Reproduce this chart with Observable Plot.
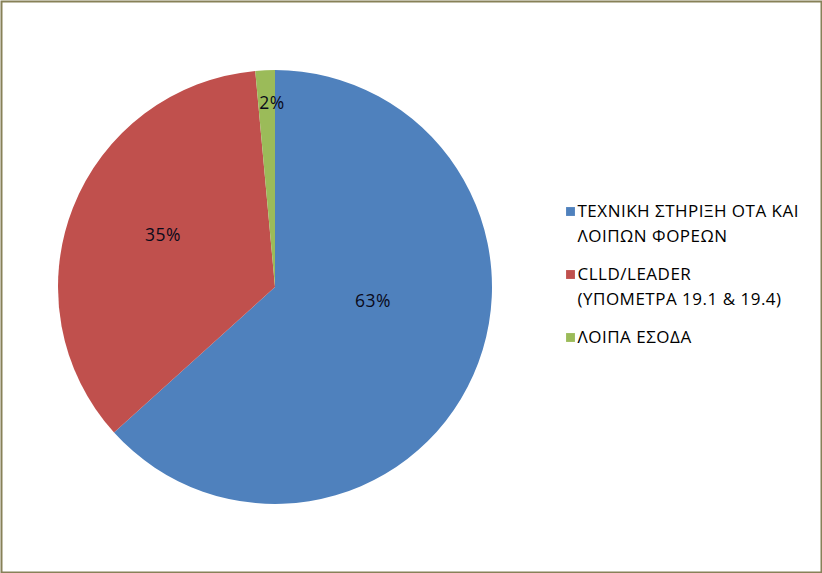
<!DOCTYPE html>
<html><head><meta charset="utf-8">
<script src="https://cdn.jsdelivr.net/npm/d3@7"></script>
<script src="https://cdn.jsdelivr.net/npm/@observablehq/plot@0.6"></script>
<style>html,body{margin:0;padding:0;background:#fff}</style>
</head><body><div id="chart"></div>
<script>
// ---- data ----
const categories = ["ΤΕΧΝΙΚΗ ΣΤΗΡΙΞΗ ΟΤΑ ΚΑΙ ΛΟΙΠΩΝ ΦΟΡΕΩΝ", "CLLD/LEADER (ΥΠΟΜΕΤΡΑ 19.1 & 19.4)", "ΛΟΙΠΑ ΕΣΟΔΑ"];
const legendLines = [["ΤΕΧΝΙΚΗ ΣΤΗΡΙΞΗ ΟΤΑ ΚΑΙ", "ΛΟΙΠΩΝ ΦΟΡΕΩΝ"], ["CLLD/LEADER", "(ΥΠΟΜΕΤΡΑ 19.1 & 19.4)"], ["ΛΟΙΠΑ ΕΣΟΔΑ"]];
const values = [63.3, 35.25, 1.45];
const valueLabels = ["63%", "35%", "2%"];
const colors = ["#4F81BD", "#C0504D", "#9BBB59"];

// ---- layout ----
const W = 822, H = 573;
const cx = 275, cy = 287, R = 217;
const labelLayout = [{shift: -16, rf: 0.454}, {shift: 3.3, rf: 0.571}, {shift: 1.5, rf: 0.848}];
const font = "'Open Sans', 'Liberation Sans', Arial, sans-serif";
const legendX = 570, legendTextX = 577, legendTop = 211, lineGap = 25, groupGap = 38;

const data = categories.map((c, i) => ({category: c, value: values[i], label: valueLabels[i]}));
const arcs = d3.pie().value(d => d.value).sort(null)(data);
const arcGen = d3.arc().innerRadius(0).outerRadius(R);
const colorScale = Plot.scale({color: {domain: categories, range: colors}});

// legend rows
const legendRows = [];
const legendKeys = [];
let yy = legendTop;
legendLines.forEach((lines, i) => {
  legendKeys.push({category: categories[i], y: yy});
  lines.forEach((t, j) => { legendRows.push({text: t, y: yy + j * lineGap}); });
  yy += (lines.length - 1) * lineGap + groupGap;
});

const labelPts = arcs.map((a, i) => {
  const mid = (a.startAngle + a.endAngle) / 2 + labelLayout[i].shift * Math.PI / 180;
  const r = labelLayout[i].rf * R;
  return {label: a.data.label, x: cx + r * Math.sin(mid), y: cy - r * Math.cos(mid)};
});

function pieMark() {
  const g = d3.create("svg:g").attr("transform", `translate(${cx},${cy})`);
  g.selectAll("path").data(arcs).join("path")
    .attr("d", arcGen)
    .attr("fill", d => colorScale.apply(d.data.category));
  return g.node();
}

const chart = Plot.plot({
  width: W, height: H, margin: 0,
  x: {domain: [0, W], range: [0, W], axis: null},
  y: {domain: [0, H], range: [0, H], axis: null},
  color: {domain: categories, range: colors},
  style: {fontFamily: font, background: "#fff", letterSpacing: "0.5px"},
  marks: [
    Plot.frame({stroke: "#878158", strokeWidth: 2, inset: 1}),
    pieMark,
    Plot.text(labelPts, {x: "x", y: "y", text: "label", fontSize: 17.5, fill: "#0a0a1a", textAnchor: "middle"}),
    Plot.dot(legendKeys, {x: () => legendX, y: "y", symbol: "square", r: 5, fill: "category"}),
    Plot.text(legendRows, {x: () => legendTextX, y: "y", text: "text", fontSize: 17, fill: "#000", textAnchor: "start"})
  ]
});
document.getElementById("chart").appendChild(chart);
</script>
</body></html>
